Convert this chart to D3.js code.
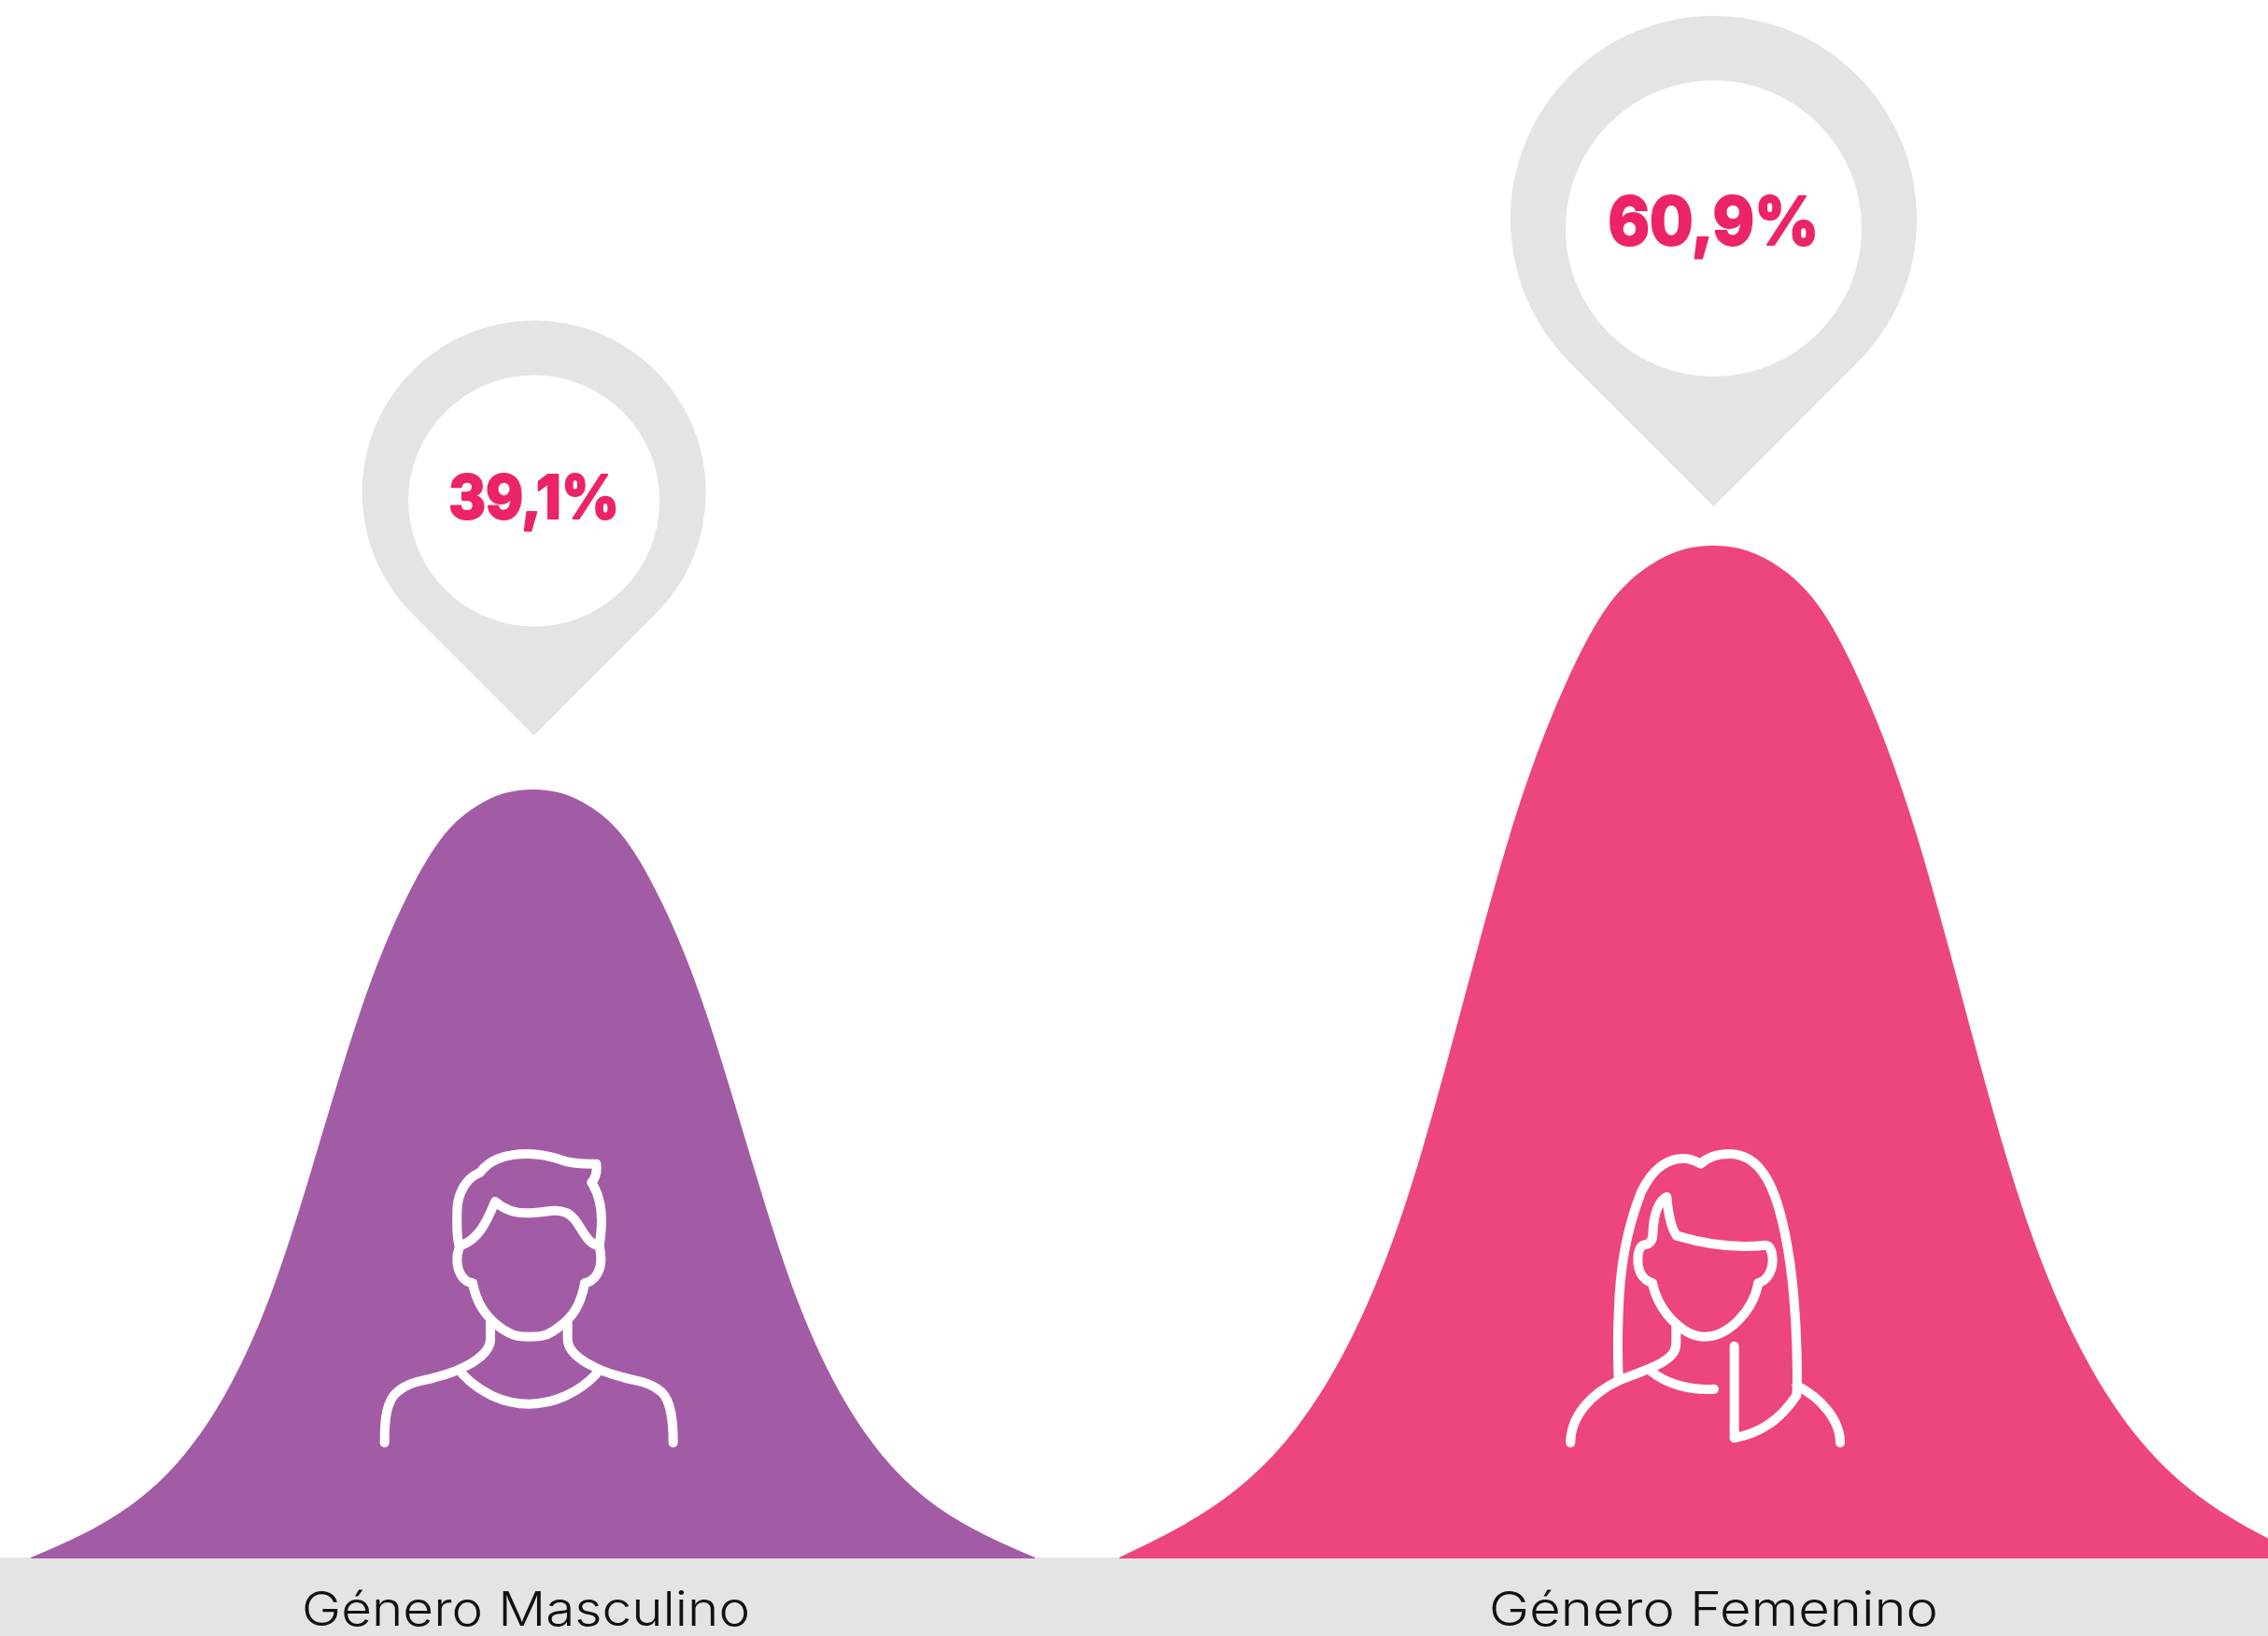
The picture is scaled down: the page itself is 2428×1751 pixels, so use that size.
<!DOCTYPE html>
<html>
<head>
<meta charset="utf-8">
<script src="https://cdn.jsdelivr.net/npm/d3@7"></script>
<style>
html,body{margin:0;padding:0;background:#fff;overflow:hidden}
svg{display:block}
</style>
</head>
<body>
<div id="chart"></div>
<script>
// ---- data ----
const categories = ["Género Masculino", "Género Femenino"];
const shares = [39.1, 60.9];

// horizontal position as % of the chart width, height as % of each curve's own peak
const maleX = [1.36,3.58,5.73,7.81,9.83,11.79,13.72,15.87,17.75,19.41,20.89,22.23,23.50,24.77,26.11,27.59,29.25,31.13,33.28,35.21,37.17,39.19,41.27,43.42,45.64];
const maleY = [0,2.96,6.73,12.30,20.75,33.11,50.36,70.95,84.85,93.43,97.6,99.5,100,99.5,97.6,93.43,84.85,70.95,50.36,33.11,20.75,12.30,6.73,2.96,0];
const femaleX = [49.35,51.97,54.52,56.98,59.37,61.69,63.97,66.51,68.74,70.70,72.45,74.04,75.54,77.04,78.63,80.38,82.34,84.57,87.11,89.39,91.71,94.10,96.56,99.11,101.73];
const femaleY = [0,2.96,6.73,12.30,20.75,33.11,50.36,70.95,84.85,93.43,97.6,99.5,100,99.5,97.6,93.43,84.85,70.95,50.36,33.11,20.75,12.30,6.73,2.96,0];

// ---- layout and style ----
const W = 2428, H = 1751, baseY = 1667;
const colors = ["#a25ca6", "#ed457d"];
const grey = "#e4e4e4", textPink = "#ec2467";
const valueFont = "Inter, 'DejaVu Sans', sans-serif";
const labelFont = "Inter, 'Liberation Sans', sans-serif";
const layouts = [
  {peakY:845, cx:571.7, pinR:184, pinCy:527, holeR:134.5, holeCy:536, valSize:64, valBase:554.5, valW:183, labelCx:563, labelW:480},
  {peakY:584, cx:1834.5, pinR:217.5, pinCy:234.5, holeR:158.5, holeCy:244.5, valSize:72, valBase:262, valW:226, labelCx:1834.5, labelW:481}
];
const icons = [
  {x:380, y:1200, paths:[
    "M95,1033 C95,960 100,900 135,870 C175,835 220,835 260,822 C330,805 435,760 435,700 L435,645",
    "M1022,1033 C1022,960 1015,900 985,870 C945,835 900,835 860,822 C790,805 683,760 683,700 L683,645",
    "M345,812 C400,870 475,908 560,908 C640,908 720,870 775,812",
    "M378,520 C390,580 415,625 470,665 C510,690 520,692 560,692 C600,692 615,690 650,665 C700,630 725,590 738,520",
    "M378,520 C345,515 328,480 328,445 C328,425 332,415 335,405",
    "M738,520 C770,515 790,480 790,445 C790,425 788,415 785,400",
    "M335,400 C325,370 328,330 328,290 C328,230 360,180 402,165 C430,125 480,105 555,105 C600,105 635,115 665,125 C695,135 740,138 775,137 C778,160 775,180 760,197 C785,235 792,280 792,320 C792,350 788,375 785,400 C745,395 730,345 705,315 C685,290 660,285 630,288 C600,292 575,295 550,295 C505,295 475,280 450,258 C425,320 395,385 335,400"
  ]},
  {x:1660, y:1200, paths:[
    "M64,1033 C64,940 140,870 218,833 C260,815 330,795 365,770 C395,750 403,735 403,710 L403,660",
    "M930,1033 C930,960 870,890 790,848",
    "M325,805 C375,845 450,865 525,860",
    "M218,830 C215,750 215,690 218,620 C222,480 240,360 290,230 C325,155 375,118 430,120 C450,120 465,128 482,137 C505,115 540,105 575,105 C650,105 700,170 730,270 C775,420 792,620 792,850 L790,880 C740,955 680,1000 590,1017 L590,722",
    "M327,520 C345,610 425,692 495,692 C570,692 650,610 667,520",
    "M327,520 C295,510 280,480 280,445 C280,425 285,400 300,397 C320,395 328,380 328,365 C330,310 340,260 373,243 C378,300 388,345 405,368 C490,393 590,410 690,398 C705,400 712,420 713,445 C713,480 697,510 667,520"
  ]}
];

// ---- drawing ----
const svg = d3.select("#chart").append("svg").attr("width", W).attr("height", H);
svg.append("rect").attr("x",0).attr("y",baseY).attr("width",W).attr("height",H-baseY).attr("fill",grey);

const x = d3.scaleLinear().domain([0,100]).range([0,W]);
const series = [
  {xs:maleX, ys:maleY},
  {xs:femaleX, ys:femaleY}
];
const fmt = d3.format(".1f");

series.forEach((s,i)=>{
  const L = layouts[i];
  const y = d3.scaleLinear().domain([0,100]).range([baseY, L.peakY]);
  const pts = s.xs.map((v,k)=>[v, s.ys[k]]);
  const area = d3.area().x(d=>x(d[0])).y0(baseY+1).y1(d=>y(d[1])).curve(d3.curveNatural);
  svg.append("path").attr("d",area(pts)).attr("fill",colors[i]);

  // pin: a circle with a 45° pointed tip
  const t = L.pinR*Math.SQRT1_2;
  const tipY = L.pinCy + L.pinR*Math.SQRT2;
  svg.append("path")
    .attr("d",`M${L.cx},${tipY} L${L.cx-t},${L.pinCy+t} A${L.pinR},${L.pinR} 0 1 1 ${L.cx+t},${L.pinCy+t} Z`)
    .attr("fill",grey);
  svg.append("circle").attr("cx",L.cx).attr("cy",L.holeCy).attr("r",L.holeR).attr("fill","#fff");

  svg.append("text").text(fmt(shares[i]).replace(".",",")+"%")
    .attr("x",L.cx).attr("y",L.valBase).attr("text-anchor","middle")
    .attr("font-family",valueFont).attr("font-weight",800).attr("font-size",L.valSize)
    .attr("textLength",L.valW).attr("lengthAdjust","spacingAndGlyphs")
    .attr("fill",textPink).attr("stroke",textPink).attr("stroke-width",2).attr("stroke-linejoin","round");

  svg.append("text").text(categories[i])
    .attr("x",L.labelCx).attr("y",1740).attr("text-anchor","middle")
    .attr("font-family",labelFont).attr("font-weight",300).attr("font-size",51)
    .attr("textLength",L.labelW).attr("lengthAdjust","spacingAndGlyphs")
    .attr("fill","#111");

  const g = svg.append("g").attr("transform",`translate(${icons[i].x},${icons[i].y}) scale(${1/3})`);
  icons[i].paths.forEach(p=>g.append("path").attr("d",p).attr("fill","none")
    .attr("stroke","#fff").attr("stroke-width",30).attr("stroke-linecap","round").attr("stroke-linejoin","round"));
});
</script>
</body>
</html>
